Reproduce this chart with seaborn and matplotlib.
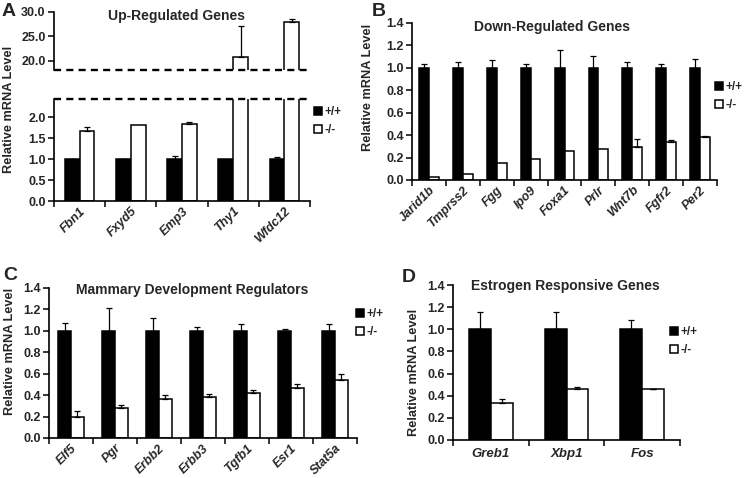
import numpy as np
import pandas as pd
import seaborn as sns
import matplotlib
matplotlib.use("Agg")
import matplotlib.pyplot as plt
from matplotlib.ticker import FormatStrFormatter, FixedLocator

# ---------------- data ----------------
groups = ["+/+", "-/-"]

a_genes = ["Fbn1", "Fxyd5", "Emp3", "Thy1", "Wfdc12"]
a_wt = [1.0, 1.0, 1.0, 1.0, 1.0]
a_wt_err = [0.01, 0.01, 0.08, 0.0, 0.06]
a_ko = [1.66, 1.80, 1.84, 20.8, 28.0]
a_ko_err = [0.10, 0.0, 0.04, 6.4, 0.5]

b_genes = ["Jarid1b", "Tmprss2", "Fgg", "Ipo9", "Foxa1", "Prlr", "Wnt7b", "Fgfr2", "Per2"]
b_wt = [1.0, 1.0, 1.0, 1.0, 1.0, 1.0, 1.0, 1.0, 1.0]
b_wt_err = [0.03, 0.05, 0.07, 0.03, 0.16, 0.11, 0.05, 0.03, 0.08]
b_ko = [0.03, 0.055, 0.155, 0.19, 0.26, 0.28, 0.295, 0.34, 0.385]
b_ko_err = [0.0, 0.0, 0.0, 0.0, 0.0, 0.0, 0.075, 0.02, 0.01]

c_genes = ["Elf5", "Pgr", "Erbb2", "Erbb3", "Tgfb1", "Esr1", "Stat5a"]
c_wt = [1.0, 1.0, 1.0, 1.0, 1.0, 1.0, 1.0]
c_wt_err = [0.075, 0.21, 0.12, 0.04, 0.06, 0.02, 0.06]
c_ko = [0.195, 0.28, 0.36, 0.38, 0.42, 0.47, 0.54]
c_ko_err = [0.06, 0.025, 0.04, 0.035, 0.025, 0.03, 0.06]

d_genes = ["Greb1", "Xbp1", "Fos"]
d_wt = [1.0, 1.0, 1.0]
d_wt_err = [0.16, 0.155, 0.08]
d_ko = [0.33, 0.46, 0.46]
d_ko_err = [0.04, 0.015, 0.005]

titles = ["Up-Regulated Genes", "Down-Regulated Genes",
          "Mammary Development Regulators", "Estrogen Responsive Genes"]
ylabel = "Relative mRNA Level"

# ---------------- style ----------------
sns.set_style("white")
plt.rcParams["font.family"] = ["Liberation Sans", "DejaVu Sans"]
plt.rcParams["font.weight"] = "bold"

W, H = 745, 478
fig = plt.figure(figsize=(W / 100, H / 100), dpi=100)


def rect(l, t, r, b):
    return [l / W, 1 - b / H, (r - l) / W, (b - t) / H]


TICK_FS = 9
XT_FS = 9
LEG_FS = 8.5
LAB_FS = 9.2
TITLE_FS = 10
PALETTE = {"+/+": "black", "-/-": "white"}


def draw(ax, genes, wt, wt_err, ko, ko_err):
    df = pd.DataFrame({
        "gene": list(genes) * 2,
        "genotype": ["+/+"] * len(genes) + ["-/-"] * len(genes),
        "value": list(wt) + list(ko),
    })
    sns.barplot(data=df, x="gene", y="value", hue="genotype", order=genes,
                hue_order=groups, palette=PALETTE, edgecolor="black",
                linewidth=1.1, width=0.58, gap=0, saturation=1,
                errorbar=None, legend=False, ax=ax)
    for cont, errs in zip(ax.containers, [wt_err, ko_err]):
        for bar, e in zip(cont, errs):
            if e > 0:
                x = bar.get_x() + bar.get_width() / 2
                ax.errorbar(x, bar.get_height(), yerr=[[0], [e]], fmt="none",
                            ecolor="black", elinewidth=0.9, capsize=2.2,
                            capthick=0.9, zorder=4)
    n = len(genes)
    ax.set_xlim(-0.5, n - 0.5)
    ax.set_xlabel("")
    ax.set_ylabel("")
    for s in ["top", "right"]:
        ax.spines[s].set_visible(False)
    for s in ["left", "bottom"]:
        ax.spines[s].set_linewidth(1.2)
        ax.spines[s].set_color("black")
    ax.xaxis.set_minor_locator(FixedLocator(np.arange(n + 1) - 0.5))
    ax.tick_params(axis="x", which="major", length=0, pad=3)
    ax.tick_params(axis="x", which="minor", length=4, width=1.1, color="black", direction="out", bottom=True)
    ax.tick_params(axis="y", which="major", length=4, width=1.1, color="black", direction="out", left=True,
                   labelsize=TICK_FS, pad=2)
    ax.yaxis.set_major_formatter(FormatStrFormatter("%.1f"))
    return ax


def xlabels(ax, genes, rot=True):
    ax.set_xticks(range(len(genes)))
    if rot:
        ax.set_xticklabels(genes, rotation=45, ha="right", rotation_mode="anchor",
                           fontsize=XT_FS, fontweight="bold", fontstyle="italic")
    else:
        ax.set_xticklabels(genes, fontsize=XT_FS + 0.5, fontweight="bold", fontstyle="italic")
        ax.tick_params(axis="x", which="major", pad=6)


def legend(ax, x, y):
    handles = [ax.containers[0].patches[0], ax.containers[1].patches[0]]
    fig.legend(handles, groups, loc="upper left",
               bbox_to_anchor=(x / W, 1 - y / H), frameon=False,
               prop={"size": LEG_FS, "weight": "bold"}, handlelength=0.7,
               handleheight=0.7, handletextpad=0.2, labelspacing=0.55,
               borderpad=0, borderaxespad=0)


# ---------------- panel A (broken axis) ----------------
axA_top = fig.add_axes(rect(54, 12, 310, 70))
axA = fig.add_axes(rect(54, 99, 310, 201))
for ax in (axA_top, axA):
    draw(ax, a_genes, a_wt, a_wt_err, a_ko, a_ko_err)
axA_top.set_ylim(18.16, 30)
axA_top.set_yticks([20, 25, 30])
axA_top.spines["bottom"].set_visible(False)
axA_top.tick_params(axis="x", which="both", bottom=False, labelbottom=False)
axA.set_ylim(0, 2.43)
axA.set_yticks([0, 0.5, 1.0, 1.5, 2.0])
xlabels(axA, a_genes)
for ax, idx in ((axA_top, 0), (axA, 1)):
    ax.axhline(ax.get_ylim()[idx], color="black", lw=1.7,
               linestyle=(0, (3, 2.2)), clip_on=False, zorder=5)
legend(axA, 314, 106)

# ---------------- panel B ----------------
axB = fig.add_axes(rect(412, 23, 717, 180))
draw(axB, b_genes, b_wt, b_wt_err, b_ko, b_ko_err)
axB.set_ylim(0, 1.4)
axB.set_yticks(np.arange(0, 1.41, 0.2))
xlabels(axB, b_genes)
legend(axB, 715, 81)

# ---------------- panel C ----------------
axC = fig.add_axes(rect(49, 288, 357, 438))
draw(axC, c_genes, c_wt, c_wt_err, c_ko, c_ko_err)
axC.set_ylim(0, 1.4)
axC.set_yticks(np.arange(0, 1.41, 0.2))
xlabels(axC, c_genes)
legend(axC, 356, 308)

# ---------------- panel D ----------------
axD = fig.add_axes(rect(453, 285, 680, 440))
draw(axD, d_genes, d_wt, d_wt_err, d_ko, d_ko_err)
axD.set_ylim(0, 1.4)
axD.set_yticks(np.arange(0, 1.41, 0.2))
xlabels(axD, d_genes, rot=False)
legend(axD, 670, 326)

for ax in (axA_top, axA, axB, axC, axD):
    for t in ax.get_yticklabels():
        t.set_fontweight("bold")

# ---------------- titles, letters, y labels ----------------
for (x, y), t in zip([(176, 16), (552, 27), (192, 290), (565, 286)], titles):
    fig.text(x / W, 1 - y / H, t, ha="center", va="center",
             fontsize=TITLE_FS, fontweight="bold")
for (x, y), t in zip([(2, 12), (372, 12), (3, 275), (402, 278)], "ABCD"):
    fig.text(x / W, 1 - y / H, t, ha="left", va="center",
             fontsize=14, fontweight="bold")
for (x, y) in [(9, 109), (368, 87), (10, 351), (414, 372)]:
    fig.text(x / W, 1 - y / H, ylabel, ha="center", va="center", rotation=90,
             fontsize=LAB_FS, fontweight="bold")

fig.savefig("out.png", dpi=100, facecolor="white")
